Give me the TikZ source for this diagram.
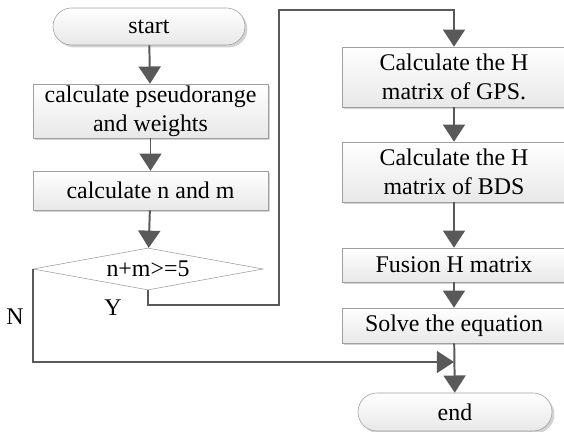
\documentclass[tikz,border=0pt]{standalone}
\usepackage{fontspec}
\setmainfont{Liberation Serif}
\usetikzlibrary{arrows.meta,shapes.geometric,shapes.misc,shadows}

\definecolor{linegray}{RGB}{89,89,89}
\definecolor{boxline}{RGB}{160,160,160}

\begin{document}
\begin{tikzpicture}[
  font=\fontsize{17}{20.6}\selectfont,
  box/.style={draw=boxline, top color=white, bottom color=black!9,
    drop shadow={shadow xshift=0.06cm, shadow yshift=-0.06cm, opacity=0.35},
    align=center, inner sep=0pt},
  term/.style={box, rounded rectangle},
  cond/.style={diamond, draw=boxline, fill=white, aspect=5.5, inner sep=0pt,
    minimum width=5.75cm, minimum height=1.05cm},
  flow/.style={draw=linegray, line width=1.4pt},
  into/.style={-{Triangle[width=0.55cm,length=0.43cm]}}
]
\useasboundingbox (0,0) rectangle (14.1,-10.8);

  % left column
  \draw (3.725,-0.6625) node[term,minimum width=4.8cm,minimum height=0.925cm] (start) {start};
  \draw (3.7625,-2.775) node[box,minimum width=5.875cm,minimum height=1.35cm] (pr) {calculate pseudorange\\and weights};
  \draw (3.7625,-4.7625) node[box,minimum width=5.875cm,minimum height=0.975cm] (nm) {calculate n and m};
  \draw (3.7,-6.725) node[cond] (c) {n+m>=5};

  % right column
  \draw (11.35,-1.925) node[box,minimum width=5.6cm,minimum height=1.5cm] (gps) {Calculate the H\\matrix of GPS.};
  \draw (11.35,-4.3) node[box,minimum width=5.6cm,minimum height=1.5cm] (bds) {Calculate the H\\matrix of BDS};
  \draw (11.35,-6.625) node[box,minimum width=5.6cm,minimum height=0.85cm] (fus) {Fusion H matrix};
  \draw (11.35,-8.1375) node[box,minimum width=5.6cm,minimum height=0.875cm] (sol) {Solve the equation};
  \draw (11.375,-10.3) node[term,minimum width=4.85cm,minimum height=0.95cm] (end) {end};

  \coordinate (yturn) at (6.975,-7.625);
  \coordinate (ytop) at (6.975,-0.25);
  \coordinate (merge) at (11.35,-9.05);

  \draw[flow,into] (start) -- (pr);
  \draw[flow,into] (pr) -- (nm);
  \draw[flow,into] (nm) -- (c);
  \draw[flow,into] (c.south) |- (yturn) -- (ytop) -| (gps.north);
  \draw[flow,into] (gps) -- (bds);
  \draw[flow,into] (bds) -- (fus);
  \draw[flow,into] (fus) -- (sol);
  \draw[flow,into] (sol) -- (end);
  \draw[flow,into] (c.west) |- (merge);

  \node (ylab) at (2.825,-7.7) {Y};
  \node (nlab) at (0.375,-7.925) {N};

\end{tikzpicture}
\end{document}
